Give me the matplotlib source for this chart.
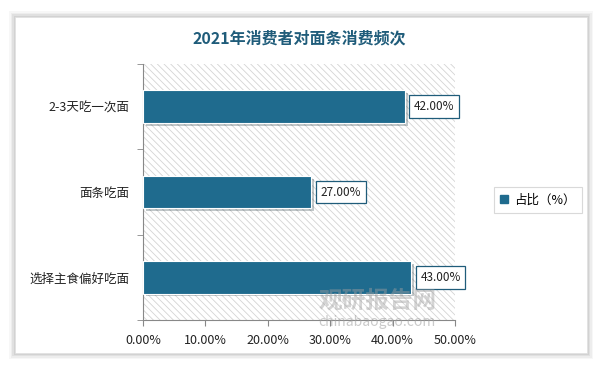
import matplotlib.pyplot as plt
import matplotlib.patheffects as pe
from matplotlib.patches import Rectangle
from matplotlib.ticker import FuncFormatter, FixedLocator

plt.rcParams['font.family'] = ['Noto Sans CJK SC', 'DejaVu Sans']
plt.rcParams['hatch.color'] = '#d4d4d4'
plt.rcParams['hatch.linewidth'] = 0.6

# data
categories = ['2-3天吃一次面', '面条吃面', '选择主食偏好吃面']
values = [42.0, 27.0, 43.0]
series_name = '占比（%）'
title = '2021年消费者对面条消费频次'

bar_color = '#1f6b8e'
dark_blue = '#1f5c7a'

fig = plt.figure(figsize=(5.99, 3.65), dpi=100)
fig.patch.set_facecolor('white')

# card with soft shadow
for i, a in enumerate([0.03, 0.04, 0.05, 0.06]):
    d = (4 - i) * 1.5
    fig.patches.append(Rectangle(((15 - d) / 599, (12 - d) / 365),
                                 (572 + 2 * d) / 599, (336 + 2 * d) / 365,
                                 transform=fig.transFigure, facecolor='black',
                                 alpha=a, edgecolor='none', zorder=0))
fig.patches.append(Rectangle((15 / 599, 12 / 365), 572 / 599, 336 / 365,
                             transform=fig.transFigure, facecolor='white',
                             edgecolor='#e0e0e0', lw=0.5, zorder=1))

ax = fig.add_axes([143 / 599, 45 / 365, 312 / 599, 256 / 365])
ax.set_zorder(2)
ax.patch.set_facecolor('white')
ax.patch.set_hatch('\\\\\\\\\\')
ax.patch.set_edgecolor('#d4d4d4')
ax.patch.set_linewidth(0)

ypos = list(range(len(categories)))
bars = ax.barh(ypos, values, height=0.38, color=bar_color, edgecolor='white',
               linewidth=0.8, zorder=3)
for b in bars:
    b.set_path_effects([pe.SimplePatchShadow(offset=(2, -2), alpha=0.25),
                        pe.Normal()])

for y, v in zip(ypos, values):
    ax.text(v + 1.45, y, f'{v:.2f}%', va='center', ha='left', fontsize=8.5,
            color='#222222', zorder=4,
            bbox=dict(boxstyle='square,pad=0.4', facecolor='white',
                      edgecolor=dark_blue, linewidth=0.9))

ax.set_xlim(0, 50)
ax.set_ylim(len(categories) - 0.5, -0.5)
ax.set_xticks([0, 10, 20, 30, 40, 50])
ax.xaxis.set_major_formatter(FuncFormatter(lambda x, p: f'{x:.2f}%'))
ax.set_yticks(ypos)
ax.set_yticklabels(categories)
ax.yaxis.set_minor_locator(FixedLocator([-0.5, 0.5, 1.5, 2.5]))
ax.tick_params(axis='y', which='major', length=0, pad=10, labelsize=9,
               labelcolor='#222222')
ax.tick_params(axis='y', which='minor', length=4, color='#888888')
ax.tick_params(axis='x', length=4, color='#888888', labelsize=9,
               labelcolor='#222222', pad=6)
for s in ['top', 'right']:
    ax.spines[s].set_visible(False)
ax.spines['left'].set_color('#888888')
ax.spines['bottom'].set_color('#888888')

# watermark
fig.text(0.63, 0.175, '观研报告网', fontsize=17, fontweight='bold',
         color='#a0a0a0', alpha=0.45, ha='center', va='center', zorder=5)
fig.text(0.63, 0.118, 'chinabaogao.com', fontsize=10, color='#a0a0a0',
         alpha=0.55, ha='center', va='center', zorder=5)

fig.text(0.5, 0.895, title, ha='center', va='center', fontsize=11.5,
         fontweight='bold', color=dark_blue, zorder=5)

# legend
leg = fig.legend([Rectangle((0, 0), 1, 1, color=bar_color)], [series_name],
                 loc='center', bbox_to_anchor=(538 / 599, 1 - 200 / 365),
                 fontsize=9, frameon=True, fancybox=False, handlelength=0.6,
                 handleheight=0.6, handletextpad=0.5, borderpad=0.5)
leg.get_frame().set_edgecolor('#d0d0d0')
leg.get_frame().set_linewidth(0.8)
leg.set_zorder(5)

fig.savefig('out.png', dpi=100)
